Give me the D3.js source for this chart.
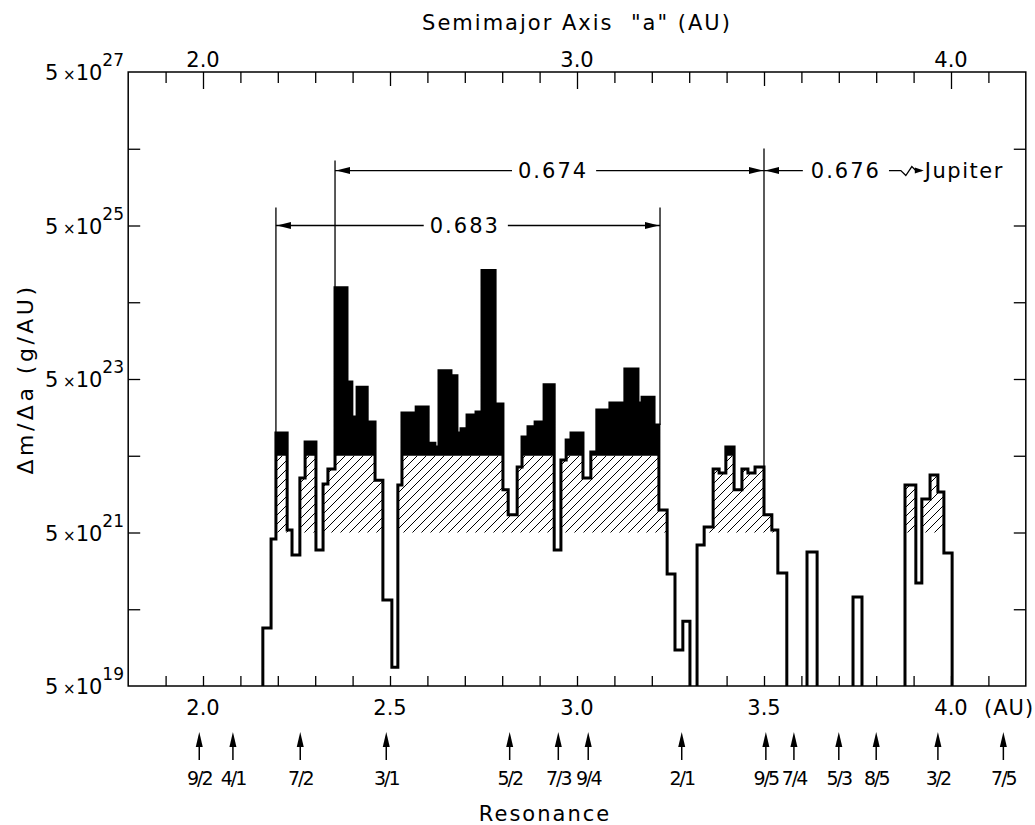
<!DOCTYPE html>
<html>
<head>
<meta charset="utf-8">
<title>Mass distribution in the asteroid belt</title>
<script src="https://cdnjs.cloudflare.com/ajax/libs/d3/7.8.5/d3.min.js"></script>
<style>
body{
margin:0;
background:#fff
}
svg{
display:block
}
text{
font-family:"DejaVu Sans",sans-serif;
fill:#000;
white-space:pre
}
</style>
</head>
<body>
<svg width="1035" height="825"></svg>

<script>

// histogram bins (AU) and mass per bin width (g/AU), null = empty bin
var binEdges = [2.160, 2.182, 2.195, 2.225, 2.238, 2.259, 2.273, 2.302, 2.321, 2.334,
	2.353, 2.385, 2.398, 2.412, 2.439, 2.460, 2.481, 2.505, 2.521, 2.532,
	2.570, 2.602, 2.620, 2.631, 2.663, 2.679, 2.690, 2.706, 2.730, 2.746,
	2.781, 2.802, 2.816, 2.840, 2.853, 2.869, 2.888, 2.912, 2.939, 2.957,
	2.971, 2.984, 3.016, 3.037, 3.053, 3.088, 3.128, 3.163, 3.174, 3.206,
	3.219, 3.241, 3.262, 3.283, 3.302, 3.321, 3.340, 3.364, 3.380, 3.398,
	3.420, 3.441, 3.457, 3.476, 3.500, 3.521, 3.537, 3.561, 3.615, 3.642,
	3.738, 3.762, 3.877, 3.906, 3.922, 3.944, 3.965, 3.981, 4.003]
var binMass = [2.85e20, 4.1e21, 9.9e22, 5.4e21, 2.55e21, 2.57e22, 7.55e22, 2.96e21, 2.14e22, 3.36e22,
	7.7e24, 4.57e23, 1.6e23, 3.9e23, 1.38e23, 2.4e22, 6.6e20, 8.8e19, 2.08e22, 1.8e23,
	2.16e23, 7.3e22, 6.5e22, 6.4e23, 5.5e23, 9.9e22, 1.12e23, 1.7e23, 1.86e23, 1.3e25,
	2.36e23, 1.8e22, 8.5e21, 3.57e22, 8.8e22, 1.19e23, 1.38e23, 4.2e23, 2.96e21, 4.4e22,
	8.0e22, 9.9e22, 2.57e22, 5.6e22, 1.97e23, 2.43e23, 6.75e23, 2.43e23, 2.9e23, 1.26e23,
	9.8e21, 1.44e21, 1.47e20, 3.5e20, null, 3.44e21, 5.9e21, 3.36e22, 2.98e22, 6.5e22,
	1.8e22, 3.36e22, 2.98e22, 3.57e22, 8.5e21, 5.4e21, 1.48e21, null, 2.79e21, null,
	7.2e20, null, 2.08e22, 1.1e21, 1.37e22, 2.8e22, 1.69e22, 2.7e21]

// hatched band and black part above it
var hatchLow = 5e21
var hatchHigh = 5e22

var resonanceNames = ['9/2', '4/1', '7/2', '3/1', '5/2', '7/3', '9/4', '2/1', '9/5', '7/4', '5/3', '8/5', '3/2', '7/5']
var resonanceAU = [1.99, 2.08, 2.26, 2.49, 2.82, 2.95, 3.03, 3.28, 3.505, 3.58, 3.70, 3.80, 3.965, 4.14]

var bottomLabels = [2.0, 2.5, 3.0, 3.5, 4.0]
var topLabels = [2.0, 3.0, 4.0]
var minorTicks = d3.range(19, 42).map(d => d / 10)
var decadeTicks = [5e20, 5e21, 5e22, 5e23, 5e24, 5e25, 5e26]
var yLabelPowers = [27, 25, 23, 21, 19]

// ratio brackets
var ratioLabels = ['0.683', '0.674', '0.676']
var ratioFrom = [2.195, 2.353, 3.5]
var ratioTo = [3.222, 3.5, null]
var ratioLevel = [5e25, 2.6e26, 2.6e26]
var ratioTextAt = [2.70, 2.936, 3.719]

var svg = d3.select('svg')
var x = d3.scaleLinear().domain([1.8, 4.2]).range([128.2, 1025.8])
var y = d3.scaleLog().domain([5e19, 5e27]).range([686, 72])
var floorValue = 1e19

svg.append('clipPath').attr('id', 'plotclip')
	.append('rect')
	.attr('x', x(1.8)).attr('y', y(5e27))
	.attr('width', x(4.2) - x(1.8)).attr('height', y(5e19) - y(5e27))

var defs = svg.append('defs')
defs.append('pattern')
	.attr('id', 'hatch')
	.attr('patternUnits', 'userSpaceOnUse')
	.attr('width', 9).attr('height', 9)
	.append('path')
	.attr('d', 'M-1,1 l2,-2 M0,9 l9,-9 M8,10 l2,-2')
	.attr('stroke', '#000')
	.attr('stroke-width', 1)

// points for step drawing
var steps = binMass.map((m, i) => ({a: binEdges[i], m: m}))
steps.push({a: binEdges[binEdges.length - 1], m: binMass[binMass.length - 1]})

var plot = svg.append('g').attr('clip-path', 'url(#plotclip)')

var hatchArea = d3.area()
	.curve(d3.curveStepAfter)
	.x(d => x(d.a))
	.y0(y(hatchLow))
	.y1(d => d.m == null ? y(hatchLow) : y(Math.max(hatchLow, Math.min(d.m, hatchHigh))))

var blackArea = d3.area()
	.curve(d3.curveStepAfter)
	.x(d => x(d.a))
	.y0(y(hatchHigh))
	.y1(d => d.m == null ? y(hatchHigh) : y(Math.max(hatchHigh, d.m)))

plot.append('path').datum(steps).attr('d', hatchArea).attr('fill', 'url(#hatch)')
plot.append('path').datum(steps).attr('d', blackArea).attr('fill', '#000')

var outlinePts = [{a: binEdges[0], m: null}].concat(steps)
outlinePts.push({a: binEdges[binEdges.length - 1], m: null})
var outline = d3.line()
	.curve(d3.curveStepAfter)
	.x(d => x(d.a))
	.y(d => y(d.m == null ? floorValue : d.m))

plot.append('path').datum(outlinePts)
	.attr('d', outline)
	.attr('fill', 'none')
	.attr('stroke', '#000')
	.attr('stroke-width', 3)

// frame and ticks
svg.append('rect')
	.attr('x', x(1.8)).attr('y', y(5e27))
	.attr('width', x(4.2) - x(1.8)).attr('height', y(5e19) - y(5e27))
	.attr('fill', 'none').attr('stroke', '#000').attr('stroke-width', 1.5)

function styleAxis(g){
	g.select('.domain').remove()
	g.selectAll('line').attr('stroke', '#000').attr('stroke-width', 1.3)
}

svg.append('g')
	.attr('transform', 'translate(0,' + y(5e19) + ')')
	.call(d3.axisBottom(x).tickValues(minorTicks).tickSize(-10).tickFormat(''))
	.call(styleAxis)

var topAxis = svg.append('g')
	.attr('transform', 'translate(0,' + y(5e27) + ')')
	.call(d3.axisTop(x).tickValues(minorTicks).tickSize(-11).tickFormat(''))
	.call(styleAxis)
topAxis.selectAll('.tick line')
	.attr('y2', d => Math.abs(d - Math.round(d)) < 1e-6 ? 17 : (Math.abs(d * 2 - Math.round(d * 2)) < 1e-6 ? 14 : 11))

svg.append('g')
	.attr('transform', 'translate(' + x(1.8) + ',0)')
	.call(d3.axisLeft(y).tickValues(decadeTicks).tickSize(-12).tickFormat(''))
	.call(styleAxis)

svg.append('g')
	.attr('transform', 'translate(' + x(4.2) + ',0)')
	.call(d3.axisRight(y).tickValues(decadeTicks).tickSize(-12).tickFormat(''))
	.call(styleAxis)

// labels
svg.append('text')
	.attr('x', x(3.0)).attr('y', 30)
	.attr('text-anchor', 'middle')
	.style('font-size', '21px').style('letter-spacing', '2px')
	.text('Semimajor Axis  "a" (AU)')

svg.selectAll('.toplab').data(topLabels).join('text')
	.attr('class', 'toplab')
	.attr('x', d => x(d)).attr('y', 67)
	.attr('text-anchor', 'middle')
	.style('font-size', '21px')
	.text(d => d.toFixed(1))

svg.selectAll('.botlab').data(bottomLabels).join('text')
	.attr('class', 'botlab')
	.attr('x', d => x(d)).attr('y', 715)
	.attr('text-anchor', 'middle')
	.style('font-size', '21px')
	.text(d => d.toFixed(1))

svg.append('text')
	.attr('x', x(4.0) + 33).attr('y', 715)
	.style('font-size', '21px').style('letter-spacing', '1px')
	.text('(AU)')

yLabelPowers.forEach(function(p){
	var t = svg.append('text')
		.attr('x', 124).attr('y', y(5 * Math.pow(10, p)) + 8)
		.attr('text-anchor', 'end')
	t.append('tspan').style('font-size', '21px').text('5')
	t.append('tspan').style('font-size', '15px').text(' ×')
	t.append('tspan').style('font-size', '21px').text('10')
	t.append('tspan').attr('dy', -14).style('font-size', '17px').text(p)
})

svg.append('text')
	.attr('transform', 'translate(33,' + y(5e23) + ') rotate(-90)')
	.attr('text-anchor', 'middle')
	.style('font-size', '22px').style('letter-spacing', '3.5px')
	.text('Δm/Δa (g/AU)')

// resonance arrows
var res = svg.selectAll('.res').data(resonanceAU).join('g')
	.attr('class', 'res')
	.attr('transform', d => 'translate(' + x(d) + ',0)')
res.append('path').attr('d', 'M0,732 L-3.5,747 L3.5,747 Z').attr('fill', '#000')
res.append('line').attr('y1', 745).attr('y2', 760).attr('stroke', '#000').attr('stroke-width', 1.5)
res.append('text')
	.attr('y', 785).attr('text-anchor', 'middle')
	.style('font-size', '19px').style('letter-spacing', '-2px')
	.text((d, i) => resonanceNames[i])

svg.append('text')
	.attr('x', 545).attr('y', 821)
	.attr('text-anchor', 'middle')
	.style('font-size', '21px').style('letter-spacing', '2px')
	.text('Resonance')

// ratio brackets
function histTop(a){
	var best = 0
	binMass.forEach(function(m, i){
		if (m != null && binEdges[i] <= a + 0.006 && binEdges[i + 1] >= a - 0.006) best = Math.max(best, m)
	})
	return best
}

function head(g, xt, yc, dir){
	g.append('path')
		.attr('d', 'M' + xt + ',' + yc + ' L' + (xt - dir * 14) + ',' + (yc - 3.5) + ' L' + (xt - dir * 14) + ',' + (yc + 3.5) + ' Z')
		.attr('fill', '#000')
}

var ann = svg.append('g').attr('stroke-width', 1.3)
var stubAbove = [[18, 18], [10, 22]]

ratioLabels.forEach(function(lab, i){
	var yb = y(ratioLevel[i])
	var g = ann.append('g')
	var lo = x(ratioFrom[i])
	var txt = g.append('text')
		.attr('x', x(ratioTextAt[i])).attr('y', yb + 7.5)
		.attr('text-anchor', 'middle')
		.style('font-size', '21px').style('letter-spacing', '2px')
		.text(lab)
	var bb = txt.node().getBBox()
	if (ratioTo[i] != null){
		var hi = x(ratioTo[i])
		g.append('line').attr('x1', lo).attr('x2', bb.x - 6).attr('y1', yb).attr('y2', yb).attr('stroke', '#000')
		g.append('line').attr('x1', bb.x + bb.width + 8).attr('x2', hi).attr('y1', yb).attr('y2', yb).attr('stroke', '#000')
		head(g, lo + 1, yb, -1)
		head(g, hi - 1, yb, 1)
		g.append('line').attr('x1', lo).attr('x2', lo)
			.attr('y1', yb - stubAbove[i][0]).attr('y2', y(histTop(ratioFrom[i])))
			.attr('stroke', '#000')
		g.append('line').attr('x1', hi).attr('x2', hi)
			.attr('y1', yb - stubAbove[i][1]).attr('y2', y(histTop(ratioTo[i])))
			.attr('stroke', '#000')
	} else {
		g.append('line').attr('x1', lo).attr('x2', bb.x - 8).attr('y1', yb).attr('y2', yb).attr('stroke', '#000')
		head(g, lo + 1, yb, -1)
		var jx = x(3.93)
		var sx = bb.x + bb.width + 8
		g.append('path')
			.attr('d', 'M' + sx + ',' + yb + ' L' + (jx - 24) + ',' + yb + ' L' + (jx - 19) + ',' + (yb + 5) +
				' L' + (jx - 13) + ',' + (yb - 4) + ' L' + (jx - 9) + ',' + yb + ' L' + (jx - 3) + ',' + yb)
			.attr('fill', 'none').attr('stroke', '#000')
		g.append('path')
			.attr('d', 'M' + (jx - 1) + ',' + yb + ' L' + (jx - 10) + ',' + (yb - 3) + ' L' + (jx - 10) + ',' + (yb + 3) + ' Z')
			.attr('fill', '#000')
		g.append('text')
			.attr('x', jx).attr('y', yb + 7.5)
			.style('font-size', '21px').style('letter-spacing', '1.5px')
			.text('Jupiter')
	}
})

</script>
</body>
</html>
